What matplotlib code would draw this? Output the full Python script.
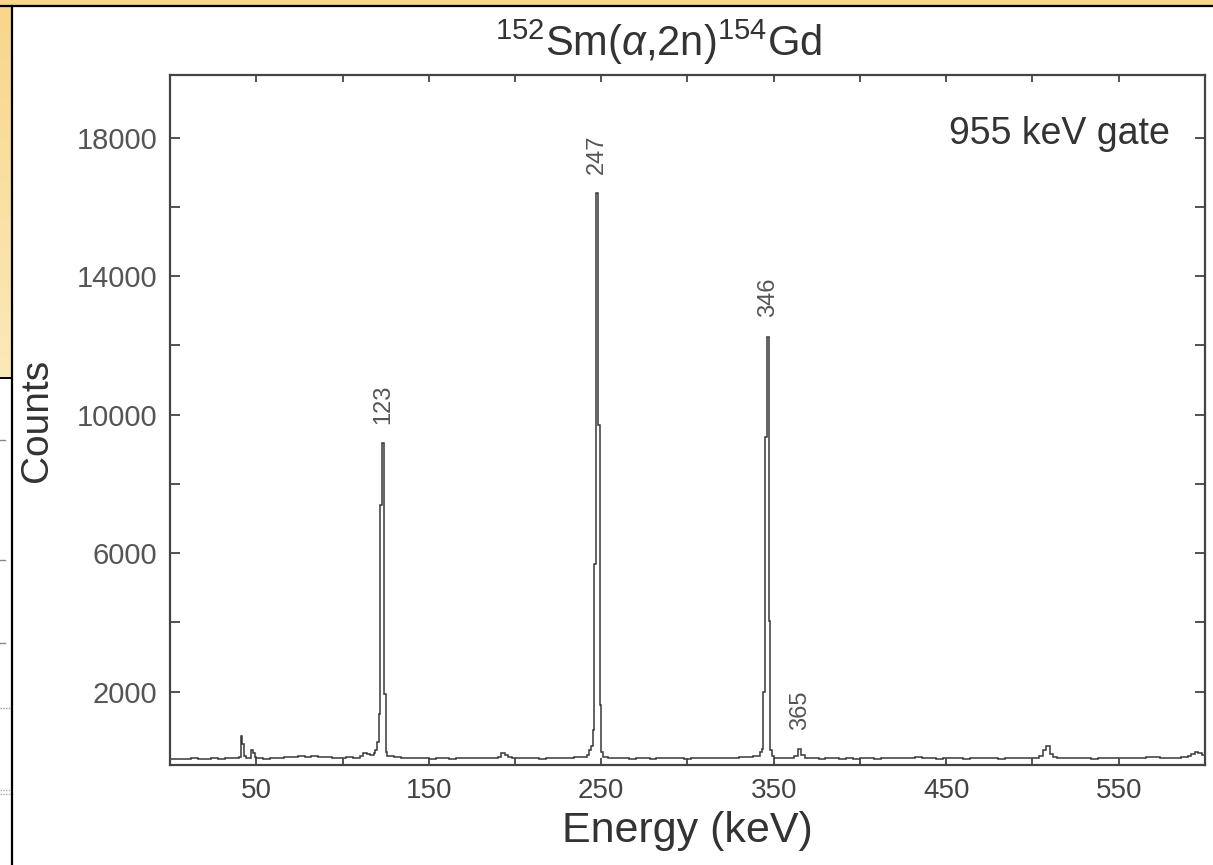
import numpy as np
import matplotlib
matplotlib.use("Agg")
import matplotlib.pyplot as plt
from matplotlib.patches import Rectangle

plt.rcParams['font.family'] = ['Liberation Sans', 'DejaVu Sans']
plt.rcParams['mathtext.fontset'] = 'custom'
plt.rcParams['mathtext.rm'] = 'Liberation Sans'
plt.rcParams['mathtext.it'] = 'Liberation Sans:italic'

# gamma spectrum gated on the 955 keV line (lower bin edges in keV, counts per bin)
bin_lo = [0, 4, 8, 12, 16, 20, 24, 28, 32, 36,
          40, 41, 42, 43, 44, 47, 48, 49,
          50, 54, 58, 62, 66, 70, 74, 78, 82, 86, 90, 94, 98, 102, 106,
          110, 112, 114, 116,
          118, 119, 120, 121, 122, 123, 124, 125,
          126,
          130, 134, 138, 142, 146, 150, 154, 158, 162, 166, 170, 174, 178, 182, 186,
          190, 192, 194, 196,
          198, 202, 206, 210, 214, 218, 222, 226, 230, 234, 238,
          242, 243,
          244, 245, 246, 247, 248, 249, 250,
          251,
          254, 258, 262, 266, 270, 274, 278, 282, 286, 290, 294, 298, 302, 306,
          310, 314, 318, 322, 326, 330, 334, 338,
          342, 343, 344, 345, 346, 347, 348, 349,
          350, 354, 358,
          362, 364, 366,
          368, 372, 376, 380, 384, 388, 392, 396, 400, 404, 408, 412, 416, 420,
          424, 428, 432, 436, 440, 444, 448, 452, 456, 460, 464, 468, 472, 476,
          480, 484, 488, 492, 496, 500,
          504, 506, 508, 510, 512,
          514, 518, 522, 526, 530, 534, 538, 542, 546, 550, 554, 558, 562, 566,
          570, 574, 578, 582, 586,
          590, 592, 594, 596, 598]
bin_hi_last = 600

counts = [40, 60, 50, 70, 60, 50, 70, 60, 80, 70,
          120, 720, 480, 150, 90, 320, 220, 100,
          70, 60, 90, 80, 110, 100, 130, 120, 140, 110, 120, 90, 80, 100, 90,
          150, 230, 190, 170,
          220, 300, 540, 1340, 7400, 9180, 1920, 260,
          150,
          110, 90, 80, 70, 90, 60, 70, 80, 60, 70, 90, 80, 70, 80, 90,
          120, 230, 170, 110,
          80, 90, 70, 80, 60, 70, 80, 90, 70, 100, 120,
          170, 300,
          420, 900, 5700, 16400, 9700, 1600, 250,
          120,
          80, 70, 90, 60, 70, 80, 60, 70, 90, 80, 70, 60, 80, 70,
          90, 80, 70, 80, 90, 100, 120, 150,
          250, 330, 1980, 9370, 12250, 4030, 300, 130,
          90, 80, 70,
          150, 330, 180,
          80, 70, 60, 70, 80, 60, 70, 60, 70, 80, 60, 70, 80, 90,
          70, 80, 120, 90, 70, 60, 70, 80, 70, 60, 70, 80, 90, 70,
          60, 70, 80, 70, 90, 80,
          140, 320, 420, 200, 120,
          90, 80, 70, 80, 70, 60, 70, 80, 70, 80, 90, 70, 80, 100,
          110, 90, 80, 90, 100,
          150, 210, 260, 230, 180]

peak_energies = [123, 247, 346, 365]
peak_heights = [9180, 16400, 12250, 330]

W, H = 1213, 865
fig = plt.figure(figsize=(W / 100, H / 100), dpi=100, facecolor='white')

# slide background: yellow box behind the pasted plot
bg = fig.add_axes([0, 0, 1, 1], zorder=-10)
bg.set_xlim(0, W)
bg.set_ylim(H, 0)
bg.axis('off')
grad = np.linspace(0, 1, 256).reshape(-1, 1)
bg.imshow(grad, cmap=matplotlib.colors.LinearSegmentedColormap.from_list(
    'slide', ['#f8d68a', '#fce9b8']), extent=(0, W, 378, 0), aspect='auto')
bg.add_patch(Rectangle((0, 378), 12, H - 378, facecolor='white', edgecolor='none'))
bg.add_patch(Rectangle((12, 6), W - 12, H - 6, facecolor='white', edgecolor='none'))
bg.plot([0, W], [5.5, 5.5], color='black', lw=1.6)
bg.plot([11.5, 11.5], [5.5, H], color='black', lw=1.6)
bg.plot([0, 11.5], [377.5, 377.5], color='black', lw=1.4)
# bits of another figure peeking out on the left
for yy in (440, 560, 643):
    bg.plot([0, 5], [yy, yy], color='#888888', lw=1)
bg.plot([0, 11], [708, 708], color='#999999', lw=1, ls=(0, (1, 1)))
bg.plot([0, 11], [790, 790], color='#aaaaaa', lw=1, ls=(0, (1, 1)))
bg.plot([0, 11], [794, 794], color='#aaaaaa', lw=1, ls=(0, (1, 1)))

ax = fig.add_axes([170 / W, 1 - 765 / H, 1035 / W, 690 / H])
edges = bin_lo + [bin_hi_last]
ax.stairs(counts, edges, color='#383838', lw=1.1)

ax.set_xlim(0, 600)
ax.set_ylim(-120, 19815)

ax.set_xticks([50, 150, 250, 350, 450, 550])
ax.set_xticks(np.arange(100, 600, 100), minor=True)
ax.set_yticks(np.arange(2000, 19000, 4000))
ax.set_yticks(np.arange(4000, 19000, 4000), minor=True)
ax.tick_params(axis='both', which='both', direction='in', top=True, right=True,
               color='#444444', width=1.3)
ax.tick_params(axis='x', which='both', length=5, labelsize=20, labelcolor='#444444', pad=9)
ax.tick_params(axis='y', which='both', length=7, labelsize=21, labelcolor='#555555', pad=9)
for s in ax.spines.values():
    s.set_color('#444444')
    s.set_linewidth(1.6)

ax.set_xlabel('Energy (keV)', fontsize=31, color='#333333')
ax.xaxis.set_label_coords(0.5, -0.066)
ax.set_ylabel('Counts', fontsize=28, color='#333333')
ax.yaxis.set_label_coords(-0.111, 0.5)

ax.text(0.966, 0.94, '955 keV gate', transform=ax.transAxes, ha='right', va='top',
        fontsize=27, color='#333333')

for e, h in zip(peak_energies, peak_heights):
    ax.annotate(str(e), xy=(e + 0.5, h), xytext=(0, 14), textcoords='offset points',
                rotation=90, ha='center', va='bottom', fontsize=17, color='#555555')

fig.text(658 / W, 1 - 42 / H, r'$^{152}$Sm($\alpha$,2n)$^{154}$Gd', ha='center',
         va='center', fontsize=30, color='#333333')

fig.savefig('out.png', dpi=100, facecolor='white')
